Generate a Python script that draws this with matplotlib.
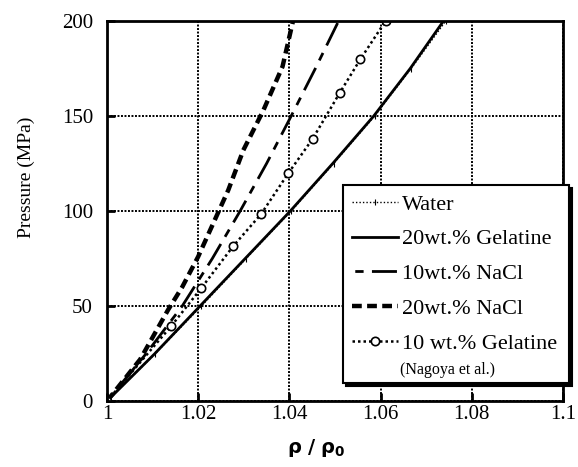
import numpy as np
import matplotlib
matplotlib.use('Agg')
import matplotlib.pyplot as plt
from matplotlib.lines import Line2D
from matplotlib.patches import Rectangle
from matplotlib.transforms import offset_copy

plt.rcParams['font.family'] = ['Liberation Serif', 'DejaVu Serif']
plt.rcParams['mathtext.fontset'] = 'dejavusans'

# density ratio rho/rho0 and pressure (MPa)
water_rho = [1.0, 1.0106, 1.0207, 1.0305, 1.0404, 1.0497, 1.0587, 1.0667, 1.0743]
water_p = [0, 25, 50, 75, 100, 125, 150, 175, 200]

gel20_rho = [1.0, 1.0105, 1.0204, 1.0303, 1.0402, 1.0495, 1.0585, 1.0665, 1.0738]
gel20_p = [0, 25, 50, 75, 100, 125, 150, 175, 200]

nacl10_rho = [1.0, 1.0086, 1.0165, 1.0231, 1.0292, 1.0350, 1.0404, 1.0457, 1.0508]
nacl10_p = [0, 25, 50, 75, 100, 125, 150, 175, 200]

nacl20_rho = [1.0, 1.0073, 1.0134, 1.0165, 1.0200, 1.0266, 1.0299, 1.0343, 1.0385, 1.0408]
nacl20_p = [0, 22, 48, 60, 76, 111, 132, 153, 176, 200]

gel10_rho = [1.0, 1.0141, 1.0207, 1.0277, 1.0338, 1.0398, 1.0451, 1.0510, 1.0556, 1.0611]
gel10_p = [0, 39.5, 59.5, 81.6, 98.4, 120, 138, 162, 180, 200]

x_ticks = [1.0, 1.02, 1.04, 1.06, 1.08, 1.1]
x_labels = ['1', '1.02', '1.04', '1.06', '1.08', '1.1']
y_ticks = [0, 50, 100, 150, 200]

labels = ['Water', '20wt.% Gelatine', '10wt.% NaCl', '20wt.% NaCl', '10 wt.% Gelatine']
note = '(Nagoya et al.)'

styles = [
    dict(lw=1.0, ls=(0, (1, 1.5)), marker='|', ms=5, mew=0.8),
    dict(lw=2.0, ls='-'),
    dict(lw=2.0, ls=(11, (9, 3, 3, 3))),
    dict(lw=3.2, ls=(0, (2.2, 1.2))),
    dict(lw=1.8, ls=(0, (1, 1.2)), marker='o', ms=6, mfc='white', mec='black', mew=1.2),
]
series = [(water_rho, water_p), (gel20_rho, gel20_p), (nacl10_rho, nacl10_p),
          (nacl20_rho, nacl20_p), (gel10_rho, gel10_p)]

fig = plt.figure(figsize=(5.78, 4.67), dpi=100)
ax = fig.add_axes([0.185, 0.141, 0.789, 0.814])

for (x, y), st in zip(series, styles):
    ax.plot(x, y, color='black', **st)

ax.set_xlim(1.0, 1.1)
ax.set_ylim(0, 200)
ax.set_xticks(x_ticks)
ax.set_xticklabels(x_labels)
ax.set_yticks(y_ticks)
ax.tick_params(direction='in', length=6, width=2, labelsize=15)
ax.tick_params(axis='y', pad=10)
ax.tick_params(axis='x', pad=3)
ax.grid(True, color='black', ls=(0, (1, 0.8)), lw=1.4)
for sp in ax.spines.values():
    sp.set_linewidth(2)

ax.set_ylabel('Pressure (MPa)', fontsize=14)
ax.yaxis.set_label_coords(-0.158, 0.59)
ax.set_xlabel(r'$\mathbf{\rho\ /\ \rho_0}$', fontsize=14, va='top')
ax.xaxis.set_label_coords(0.46, -0.095)

# legend box drawn by hand so the small note line fits like the original
box = dict(x0=0.5175, y0=0.047, w=0.496, h=0.521)
shadow = Rectangle((box['x0'], box['y0']), box['w'], box['h'], facecolor='black',
                   edgecolor='black', lw=1.5, clip_on=False, zorder=4,
                   transform=offset_copy(ax.transAxes, fig=fig, x=3, y=-3, units='dots'))
frame = Rectangle((box['x0'], box['y0']), box['w'], box['h'], facecolor='white',
                  edgecolor='black', lw=1.5, clip_on=False, zorder=4.5,
                  transform=ax.transAxes)
ax.add_patch(shadow)
ax.add_patch(frame)

handles = []
for st in styles:
    h = Line2D([0, 0.5, 1], [0, 0, 0], color='black', **st)
    if 'marker' in st:
        h.set_markevery([1])
    handles.append(h)
leg = ax.legend(handles, labels, loc='upper left',
                bbox_to_anchor=(box['x0'], box['y0'] + box['h']),
                borderaxespad=0, fontsize=16, frameon=False, handlelength=2.1,
                handletextpad=0.15, labelspacing=0.64, borderpad=0.4)
leg.set_zorder(6)
ax.text(0.6425, 0.082, note, transform=ax.transAxes, fontsize=11.5,
        ha='left', va='center', zorder=7)

fig.savefig('out.png', dpi=100)
